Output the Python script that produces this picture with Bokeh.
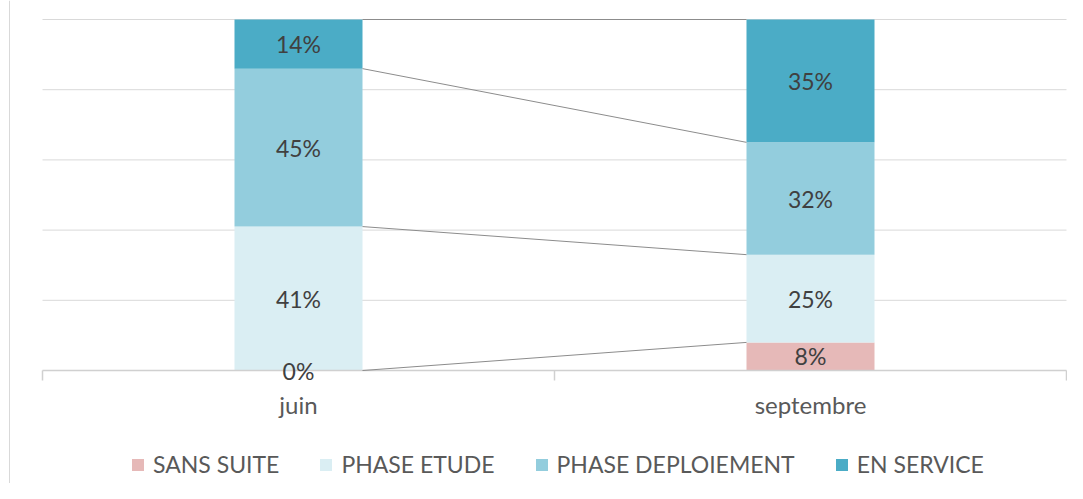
import numpy as np
from bokeh.plotting import figure
from bokeh.models import ColumnDataSource, Range1d, Legend, LegendItem, Span
from bokeh.core.properties import value
from bokeh.embed import file_html
from bokeh.resources import INLINE

categories = ["juin", "septembre"]
series = ["SANS SUITE", "PHASE ETUDE", "PHASE DEPLOIEMENT", "EN SERVICE"]
sans_suite = [0, 8]
phase_etude = [41, 25]
phase_deploiement = [45, 32]
en_service = [14, 35]
grid_ticks = [20, 40, 60, 80, 100]
colors = ["#E6B9B8", "#DAEEF3", "#93CDDD", "#4BACC6"]

values = [sans_suite, phase_etude, phase_deploiement, en_service]
FONT = "Lato"
bar_w = 0.25

# layout in pixels of the canvas
W, H = 1067, 483
PL, PR, PT, PB = 42, 1066, 19, 370      # plot area edges
ncat = len(categories)
ux = (PR - PL) / ncat                   # px per category
uy = (PB - PT) / 100.0                  # px per percent

x_range = Range1d(-PL / ux, ncat + (W - PR) / ux)
y_range = Range1d(-(H - PB) / uy, 100 + PT / uy)

xs = [i + 0.5 for i in range(ncat)]
data = {"x": xs}
for name, vals in zip(series, values):
    data[name] = vals
source = ColumnDataSource(data)

p = figure(width=W, height=H, output_backend="svg", toolbar_location=None,
           x_range=x_range, y_range=y_range,
           min_border=0, min_border_left=0, min_border_right=0,
           min_border_top=0, min_border_bottom=0)
p.outline_line_color = None
p.xaxis.visible = False
p.yaxis.visible = False
p.grid.visible = False

# left border of chart box
p.add_layout(Span(location=-(PL - 9) / ux, dimension="height",
                  line_color="#d9d9d9", line_width=1))

# gridlines
p.segment(x0=[0] * len(grid_ticks), x1=[ncat] * len(grid_ticks), y0=grid_ticks, y1=grid_ticks,
          line_color="#d9d9d9", line_width=1)

renderers = p.vbar_stack(series, x="x", width=bar_w, color=colors, source=source,
                         line_color=None)

# axis line and tick marks
p.segment(x0=[0], x1=[ncat], y0=[0], y1=[0], line_color="#d0d0d0", line_width=1.5)
tick_len = 10 / uy
p.segment(x0=list(range(ncat + 1)), x1=list(range(ncat + 1)),
          y0=[0] * (ncat + 1), y1=[-tick_len] * (ncat + 1),
          line_color="#d0d0d0", line_width=1.5)

# series lines connecting stacks
cum = np.cumsum(np.array(values), axis=0)
for k in range(cum.shape[0]):
    p.line(x=[xs[0] + bar_w / 2, xs[1] - bar_w / 2], y=[cum[k][0], cum[k][1]],
           line_color="#8c8c8c", line_width=1)

# data labels
lx, ly, lt = [], [], []
for k in range(cum.shape[0]):
    for i in range(ncat):
        v = values[k][i]
        lx.append(xs[i])
        ly.append(cum[k][i] - v / 2)
        lt.append(f"{v}%")
p.text(x=lx, y=ly, text=lt, text_align="center", text_baseline="middle",
       text_font=value(FONT), text_font_size="23px", text_color="#404040")

# category labels
p.text(x=xs, y=[0] * ncat, text=categories, y_offset=34, text_align="center",
       text_baseline="middle", text_font=value(FONT), text_font_size="24px",
       text_color="#595959")

legend = Legend(items=[LegendItem(label=s, renderers=[r]) for s, r in zip(series, renderers)],
                orientation="horizontal", location=(130, 5))
legend.label_text_font = FONT
legend.label_text_font_size = "23px"
legend.label_text_color = "#595959"
legend.glyph_width = 15
legend.glyph_height = 15
legend.label_standoff = 8
legend.spacing = 39
legend.border_line_color = None
legend.background_fill_alpha = 0
legend.margin = 0
legend.padding = 4
p.add_layout(legend, "center")

open("out.html", "w").write(file_html(p, INLINE))
